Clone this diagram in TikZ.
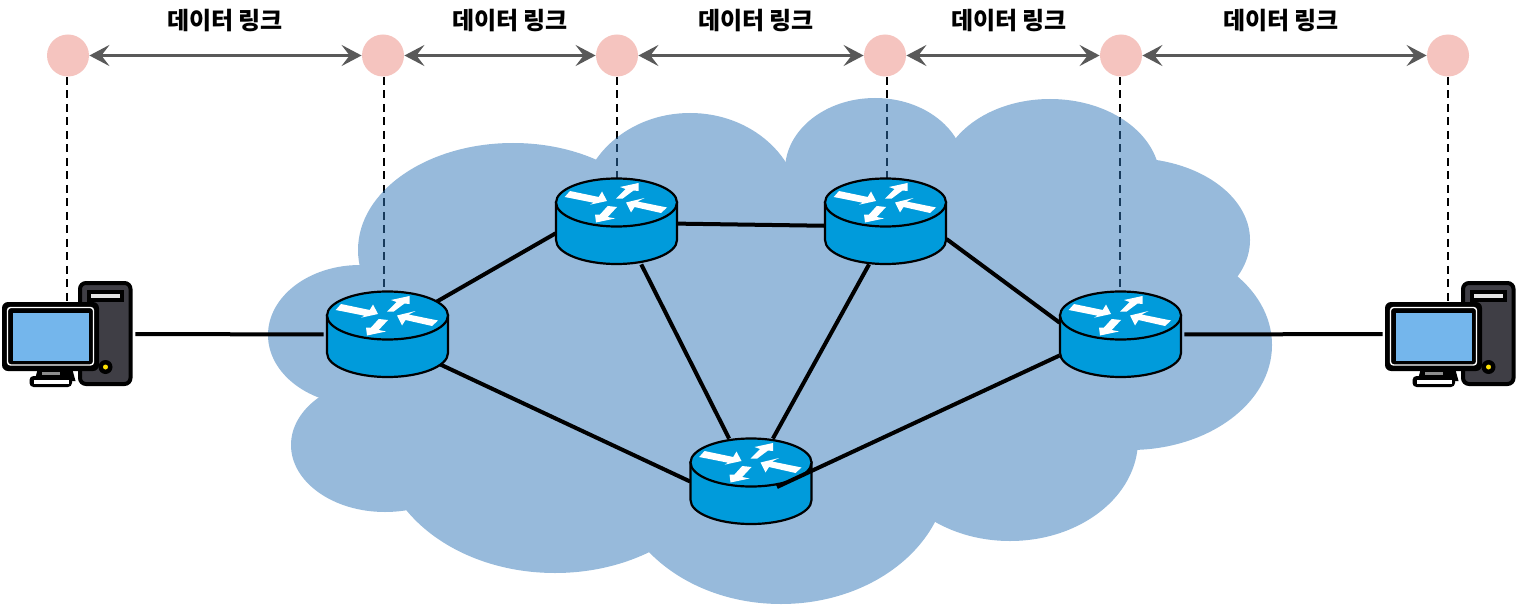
\documentclass[tikz,border=0pt]{standalone}
\usepackage{fontspec}
\newfontfamily\cjk{Noto Sans CJK KR}
\usetikzlibrary{arrows.meta}
\definecolor{cloudblue}{HTML}{2F75B7}
\definecolor{routerblue}{HTML}{009BDB}
\definecolor{hoppink}{HTML}{F5C4BF}
\definecolor{arrowgray}{HTML}{595959}
\definecolor{screenblue}{HTML}{74B6EC}
\definecolor{towergray}{HTML}{3F3E45}
\tikzset{
  hop/.style={circle, fill=hoppink, minimum size=21pt, inner sep=0pt},
  hoplink/.style={line width=1.5pt, color=arrowgray, {Stealth[length=10pt, width=10.5pt, inset=4pt]}-{Stealth[length=10pt, width=10.5pt, inset=4pt]}},
  droplink/.style={line width=0.9pt, dash pattern=on 4pt off 2.75pt},
  wirelink/.style={line width=2pt, line cap=butt},
  routerspot/.style={rectangle, minimum width=60.5pt, minimum height=42.5pt, inner sep=0pt},
  pcspot/.style={rectangle, minimum width=67.5pt, minimum height=53pt, inner sep=0pt},
  linklabel/.style={font=\cjk\bfseries\fontsize{12}{14}\selectfont, inner sep=0pt},
  pics/routericon/.style={code={
    \draw[line width=1.1pt, fill=routerblue] (-60.5,-19) -- (-60.5,18.5) arc[start angle=180, end angle=0, x radius=60.5, y radius=24] -- (60.5,-19) -- cycle;
    \draw[line width=1.1pt, fill=routerblue] (0,-19) ellipse [x radius=60.5, y radius=24];
    \fill[white] (-51.8,-24.5) -- (-46.5,-30.5) -- (-17.8,-24.5) -- (-14.5,-30) -- (-9.5,-20.5) -- (-26.5,-16.8) -- (-23,-18.8) -- cycle;
    \fill[white] (22,-38.5) -- (3.5,-34.5) -- (9,-32.5) -- (-0.5,-22.8) -- (6,-22.8) -- (17,-31) -- (22,-30.5) -- cycle;
    \fill[white] (50.5,-14) -- (44.5,-8.5) -- (18,-14.5) -- (14.5,-9) -- (9.5,-19) -- (28,-23.5) -- (21,-20) -- cycle;
    \fill[white] (-8.8,-15.5) -- (0.5,-14.5) -- (-8.8,-4.5) -- (-1.5,-3) -- (-20.5,1) -- (-21.5,-7) -- (-16.5,-7) -- cycle;
  }},
  pics/pcicon/.style={code={
    % Tower
    \draw[line width=2pt, fill=towergray, rounded corners=3pt] (12.5,-51) rectangle (63,50);
    \fill[black] (19,-44.5) rectangle (56.5,-32);
    \fill[black!10] (23,-40.5) rectangle (52.5,-36);
    \fill[black] (38,33) circle [radius=7];
    \fill[yellow!85!orange] (38,33) circle [radius=2.5];
    % Monitor
    \fill[black, rounded corners=3pt] (-65.5,-32) rectangle (31.5,37);
    \draw[white, line width=0.7pt, rounded corners=1.5pt] (-60,-26.5) rectangle (26,31);
    \fill[screenblue] (-55,-21.5) rectangle (21.5,27);
    % Stand
    \fill[black] (-30,36) -- (5,36) -- (8,47) -- (-33,47) -- cycle;
    \fill[black!45] (-25.5,37.5) rectangle (-7.5,41);
    \fill[black, rounded corners=2pt] (-38,42) rectangle (4.5,53);
    \fill[white] (-34,45.5) rectangle (1,49.5);
  }}
}

\begin{document}
\begin{tikzpicture}[x=0.5pt, y=-0.5pt]
  \useasboundingbox (0,0) rectangle (1518,604);

  % Hops and device spots
  \node[hop] (hopa) at (68,55.5) {};
  \node[hop] (hopb) at (383,55.5) {};
  \node[hop] (hopc) at (617,55.5) {};
  \node[hop] (hopd) at (885,55.5) {};
  \node[hop] (hope) at (1121,55.5) {};
  \node[hop] (hopf) at (1448,55.5) {};

  \node[pcspot] (pcleft) at (67.5,334) {};
  \node[pcspot] (pcright) at (1450.5,334) {};
  \node[routerspot] (rleft) at (387.5,334.5) {};
  \node[routerspot] (rtopa) at (616.5,221.5) {};
  \node[routerspot] (rtopb) at (885.5,221.5) {};
  \node[routerspot] (rright) at (1120.5,334.5) {};
  \node[routerspot] (rbottom) at (751,481.5) {};

  % Dashed drops
  \draw[droplink] ([xshift=-0.5pt]hopa.south) -- ([xshift=-0.5pt]hopa.south |- pcleft);
  \draw[droplink] ([xshift=0.5pt]hopb.south) -- ([xshift=0.5pt]hopb.south |- rleft.north);
  \draw[droplink] (hopc) -- (hopc |- rtopa.north);
  \draw[droplink] ([xshift=1pt]hopd.south) -- ([xshift=1pt]hopd.south |- rtopb.north);
  \draw[droplink] ([xshift=-0.5pt]hope.south) -- ([xshift=-0.5pt]hope.south |- rright.north);
  \draw[droplink] (hopf) -- (hopf |- pcright);

  % ==========================================
  % Cloud
  % ==========================================
  \begin{scope}[transparency group, opacity=0.5]
    \fill[cloudblue] (513,250) ellipse [x radius=155, y radius=107];
    \fill[cloudblue] (360,335) ellipse [x radius=92, y radius=70];
    \fill[cloudblue] (385,445) ellipse [x radius=94, y radius=67];
    \fill[cloudblue] (555,440) ellipse [x radius=175, y radius=133];
    \fill[cloudblue] (781,470) ellipse [x radius=167, y radius=134];
    \fill[cloudblue] (1010,440) ellipse [x radius=128, y radius=101];
    \fill[cloudblue] (1130,345) ellipse [x radius=142, y radius=105];
    \fill[cloudblue] (1130,240) ellipse [x radius=120, y radius=82];
    \fill[cloudblue] (1050,180) ellipse [x radius=110, y radius=81];
    \fill[cloudblue] (875,170) ellipse [x radius=90, y radius=72];
    \fill[cloudblue] (690,210) ellipse [x radius=110, y radius=97];
    \fill[cloudblue] (600,180) rectangle (1100,300);
    \fill[cloudblue] (360,280) rectangle (1125,445);
  \end{scope}

  % Data links
  \draw[hoplink] (hopa) -- (hopb);
  \draw[hoplink] (hopb) -- (hopc);
  \draw[hoplink] (hopc) -- (hopd);
  \draw[hoplink] (hopd) -- (hope);
  \draw[hoplink] (hope) -- (hopf);

  \node[linklabel] (labela) at (225,21) {데이터 링크};
  \node[linklabel] (labelb) at (510,21) {데이터 링크};
  \node[linklabel] (labelc) at (756,21) {데이터 링크};
  \node[linklabel] (labeld) at (1009,21) {데이터 링크};
  \node[linklabel] (labele) at (1281,21) {데이터 링크};

  % Wires
  \draw[wirelink, shorten >=1.5pt] (pcleft.east) -- (rleft.west);
  \draw[wirelink, shorten <=-8pt] (rleft.33) -- (rtopa.191);
  \draw[wirelink, shorten <=-8pt] (rleft.-29) -- (rbottom.west);
  \draw[wirelink] (rtopa.-2) -- (rtopb.184);
  \draw[wirelink] (rtopa.-60) -- (rbottom.117);
  \draw[wirelink] (rtopb.-111) -- (rbottom.63);
  \draw[wirelink] (rtopb.-16) -- (rright.169);
  \draw[wirelink, shorten <=1.5pt] (rright.east) -- (pcright.west);

  % Devices
  \pic at (rleft) {routericon};
  \pic at (rtopa) {routericon};
  \pic at (rtopb) {routericon};
  \pic at (rright) {routericon};
  \pic at (rbottom) {routericon};
  \pic at (pcleft) {pcicon};
  \pic at (pcright) {pcicon};

  % Wire running over the bottom router
  \coordinate (wireend) at (777,487);
  \draw[wirelink] (rright.199) -- (wireend);

\end{tikzpicture}
\end{document}
